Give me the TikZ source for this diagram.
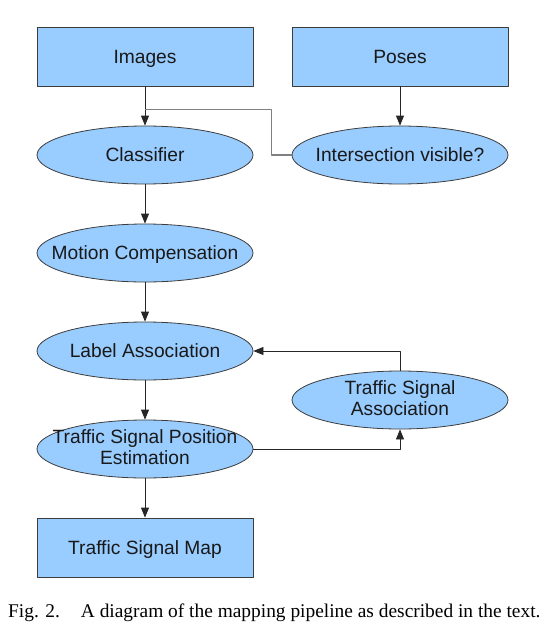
\documentclass[tikz,border=0pt]{standalone}
\usepackage{fontspec}
\setmainfont{Liberation Serif}
\newfontfamily\diagfont{Liberation Sans}
\usetikzlibrary{shapes.geometric,arrows.meta}
\definecolor{fillblue}{HTML}{99CCFF}
\definecolor{edgegray}{HTML}{3C3C3C}
\begin{document}
\begin{tikzpicture}[x=1pt,y=-1pt,line join=round,>={Triangle[length=10pt,width=8pt]},
	box/.style={draw=edgegray,fill=fillblue,line width=0.8pt,minimum width=216pt,minimum height=59pt,inner sep=0pt,text=black!90,font=\diagfont\fontsize{19.2}{21.5}\selectfont,align=center,
		execute at begin node={\rule[-4.1pt]{0pt}{21.5pt}},execute at end node={\rule[-4.1pt]{0pt}{21.5pt}}},
	oval/.style={box,ellipse,minimum height=58pt,inner xsep=-40pt,inner ysep=-8pt},
	flow/.style={->,draw=black!85,line width=0.8pt},
	feed/.style={draw=black!50,line width=1.2pt}]
	\useasboundingbox (0,0) rectangle (559,637);
	% sources
	\node[box] (img) at (145,56.5) {Images};
	\node[box] (pos) at (400,56.5) {Poses};
	% pipeline
	\node[oval] (cls) at (145,155) {Classifier};
	\node[oval] (vis) at (400,155) {Intersection visible?};
	\node[oval] (mc) at (145,253) {Motion Compensation};
	\node[oval] (lab) at (145,351) {Label Association};
	\node[oval] (tsa) at (400,400) {Traffic Signal\\Association};
	\node[oval] (est) at (145,449) {Traffic Signal Position\\Estimation};
	\node[box] (map) at (145,547.5) {Traffic Signal Map};
	\coordinate (merge) at ([yshift=-23pt]img.south);
	\draw[flow] (img) -- (cls);
	\draw[flow] (pos) -- (vis);
	\draw[feed] (vis.west) -- ++(-20,0) |- (merge);
	\draw[flow] (cls) -- (mc);
	\draw[flow] (mc) -- (lab);
	\draw[flow] (lab) -- (est);
	\draw[flow] (est) -- (map);
	\draw[flow] (est.east) -| (tsa.south);
	\draw[flow] (tsa.north) |- (lab.east);
	% caption
	\node[anchor=west,inner sep=0pt,font=\fontsize{19.4}{22}\selectfont] (cap) at (8,613) {Fig. 2.\hspace{21pt}A diagram of the mapping pipeline as described in the text.};
\end{tikzpicture}
\end{document}
